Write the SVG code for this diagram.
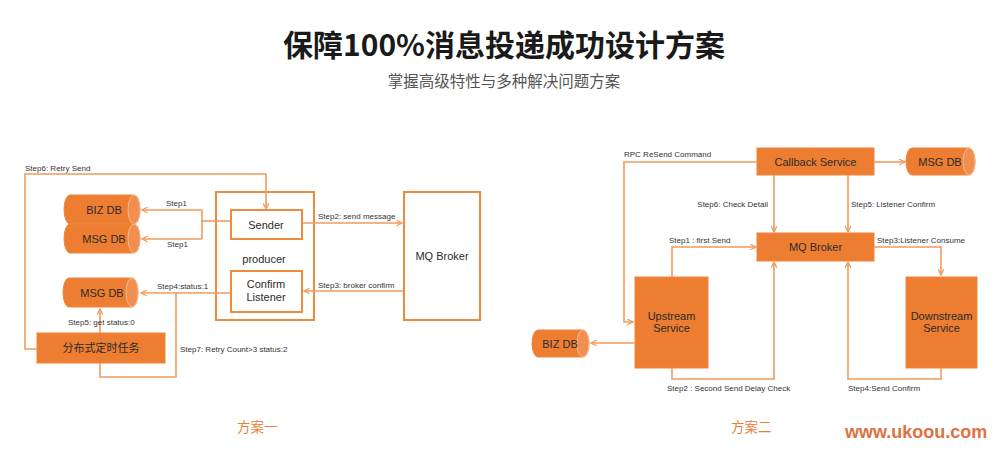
<svg xmlns="http://www.w3.org/2000/svg" width="1000" height="453" viewBox="0 0 1000 453">
<style>
.title{font-family:"Noto Sans CJK SC","Noto Sans",sans-serif;font-weight:bold;font-size:30px;fill:#1a1a1a}
.sub{font-family:"Noto Sans CJK SC","Noto Sans",sans-serif;font-size:15.5px;fill:#555}
.cap{font-family:"Noto Sans CJK SC",sans-serif;font-size:13.5px;fill:#e8803a}
.brand{font-family:"Liberation Sans",Arial,sans-serif;font-weight:bold;font-size:18px;fill:#e07040}
.t{font-family:"Liberation Sans",Arial,"Noto Sans CJK SC",sans-serif;font-size:11px;fill:#2b2b2b;text-anchor:middle}
.tc{font-family:"Noto Sans CJK SC",sans-serif;font-size:11px;fill:#2b2b2b;text-anchor:middle}
.lbl{font-family:"Liberation Sans",Arial,sans-serif;font-size:8px;fill:#333}
.fill{fill:#ed7d31;stroke:#ee8540;stroke-width:1}
.outline{fill:#fff;stroke:#f08a3c;stroke-width:2}
.cap-e{fill:#f08f4f;stroke:#f7b98d;stroke-width:1}
.conn{fill:none;stroke:#f19b5e;stroke-width:1.6}
</style>
<defs>
<marker id="arr" viewBox="0 0 10 10" refX="9" refY="5" markerWidth="7" markerHeight="7" orient="auto" markerUnits="userSpaceOnUse">
<polyline points="1,1 9,5 1,9" fill="none" stroke="#f19b5e" stroke-width="1.8"/>
</marker>
</defs>

<text class="title" x="504" y="56" text-anchor="middle">保障100%消息投递成功设计方案</text>
<text class="sub" x="504" y="87" text-anchor="middle">掌握高级特性与多种解决问题方案</text>

<!-- left diagram nodes -->
<g id="biz-db-left">
<path class="fill" d="M70,195 H134 A6,14.5 0 0 1 134,224 H70 A6,14.5 0 0 1 70,195 Z"/>
<ellipse class="cap-e" cx="134" cy="209.5" rx="6" ry="14.5"/>
<text class="t" x="104" y="214">BIZ DB</text>
</g>
<g id="msg-db-left-1">
<path class="fill" d="M70,224 H134 A6,14.5 0 0 1 134,253 H70 A6,14.5 0 0 1 70,224 Z"/>
<ellipse class="cap-e" cx="134" cy="238.5" rx="6" ry="14.5"/>
<text class="t" x="104" y="243">MSG DB</text>
</g>
<g id="producer">
<rect class="outline" x="216" y="192" width="98" height="128"/>
<text class="t" x="264" y="263">producer</text>
</g>
<g id="sender">
<rect class="outline" x="231" y="210" width="71" height="29"/>
<text class="t" x="266" y="228.5">Sender</text>
</g>
<g id="confirm-listener">
<rect class="outline" x="231" y="271" width="71" height="41"/>
<text class="t" x="266" y="288">Confirm</text>
<text class="t" x="266" y="301">Listener</text>
</g>
<g id="mq-broker-left">
<rect class="outline" x="404" y="192" width="76" height="128"/>
<text class="t" x="442" y="260">MQ Broker</text>
</g>
<g id="msg-db-left-2">
<path class="fill" d="M69,278 H132 A6,14.5 0 0 1 132,307 H69 A6,14.5 0 0 1 69,278 Z"/>
<ellipse class="cap-e" cx="132" cy="292.5" rx="6" ry="14.5"/>
<text class="t" x="102" y="297">MSG DB</text>
</g>
<g id="scheduler">
<rect class="fill" x="37" y="333" width="128" height="30"/>
<text class="tc" x="101" y="352">分布式定时任务</text>
</g>

<!-- right diagram nodes -->
<g id="callback-service">
<rect class="fill" x="757" y="148" width="117" height="27"/>
<text class="t" x="815.5" y="165.5">Callback Service</text>
</g>
<g id="msg-db-right">
<path class="fill" d="M912,148 H969 A6,13.5 0 0 1 969,175 H912 A6,13.5 0 0 1 912,148 Z"/>
<ellipse class="cap-e" cx="969" cy="161.5" rx="6" ry="13.5"/>
<text class="t" x="940" y="165.5">MSG DB</text>
</g>
<g id="mq-broker-right">
<rect class="fill" x="757" y="233" width="117" height="28"/>
<text class="t" x="815.5" y="251">MQ Broker</text>
</g>
<g id="upstream-service">
<rect class="fill" x="635" y="277" width="73" height="91"/>
<text class="t" x="671.5" y="320">Upstream</text>
<text class="t" x="671.5" y="332">Service</text>
</g>
<g id="downstream-service">
<rect class="fill" x="906" y="277" width="71" height="91"/>
<text class="t" x="941.5" y="320">Downstream</text>
<text class="t" x="941.5" y="332">Service</text>
</g>
<g id="biz-db-right">
<path class="fill" d="M538,330 H583 A6,13.5 0 0 1 583,357 H538 A6,13.5 0 0 1 538,330 Z"/>
<ellipse class="cap-e" cx="583" cy="343.5" rx="6" ry="13.5"/>
<text class="t" x="560" y="347.5">BIZ DB</text>
</g>

<g id="connectors">
<!-- left -->
<polyline class="conn" points="37,349 25,349 25,174 266,174 266,209" marker-end="url(#arr)"/>
<polyline class="conn" points="230,221 202,221"/>
<polyline class="conn" points="202,210 202,239"/>
<line class="conn" x1="202" y1="210" x2="142" y2="210" marker-end="url(#arr)"/>
<line class="conn" x1="202" y1="239" x2="142" y2="239" marker-end="url(#arr)"/>
<line class="conn" x1="303" y1="223" x2="402" y2="223" marker-end="url(#arr)"/>
<line class="conn" x1="403" y1="291" x2="304" y2="291" marker-end="url(#arr)"/>
<line class="conn" x1="230" y1="293" x2="141" y2="293" marker-end="url(#arr)"/>
<line class="conn" x1="100" y1="333" x2="100" y2="309" marker-end="url(#arr)"/>
<polyline class="conn" points="100,363 100,377 176,377 176,293"/>
<!-- right -->
<polyline class="conn" points="757,162 624,162 624,322 633,322" marker-end="url(#arr)"/>
<line class="conn" x1="874" y1="162" x2="905" y2="162" marker-end="url(#arr)"/>
<line class="conn" x1="774" y1="175" x2="774" y2="232" marker-end="url(#arr)"/>
<line class="conn" x1="848" y1="175" x2="848" y2="232" marker-end="url(#arr)"/>
<polyline class="conn" points="672,277 672,247 756,247" marker-end="url(#arr)"/>
<polyline class="conn" points="874,247 941,247 941,275" marker-end="url(#arr)"/>
<polyline class="conn" points="941,368 941,379 848,379 848,262" marker-end="url(#arr)"/>
<polyline class="conn" points="672,368 672,379 774,379 774,262" marker-end="url(#arr)"/>
<line class="conn" x1="635" y1="343" x2="591" y2="343" marker-end="url(#arr)"/>
</g>

<g id="labels">
<text class="lbl" x="25" y="171">Step6: Retry Send</text>
<text class="lbl" x="166" y="206">Step1</text>
<text class="lbl" x="167" y="247">Step1</text>
<text class="lbl" x="318" y="219">Step2: send message</text>
<text class="lbl" x="318" y="288">Step3: broker confirm</text>
<text class="lbl" x="157" y="289">Step4:status:1</text>
<text class="lbl" x="68" y="325">Step5: get status:0</text>
<text class="lbl" x="180" y="352">Step7: Retry Count&gt;3 status:2</text>
<text class="lbl" x="624" y="157">RPC ReSend Command</text>
<text class="lbl" x="768" y="207" text-anchor="end">Step6: Check Detail</text>
<text class="lbl" x="851" y="207">Step5: Listener Confirm</text>
<text class="lbl" x="669" y="243">Step1 : first Send</text>
<text class="lbl" x="877" y="243">Step3:Listener Consume</text>
<text class="lbl" x="667" y="391">Step2 : Second Send Delay Check</text>
<text class="lbl" x="848" y="391">Step4:Send Confirm</text>
</g>

<text class="cap" x="237" y="432">方案一</text>
<text class="cap" x="731" y="432">方案二</text>
<text class="brand" x="845" y="438">www.ukoou.com</text>
</svg>
